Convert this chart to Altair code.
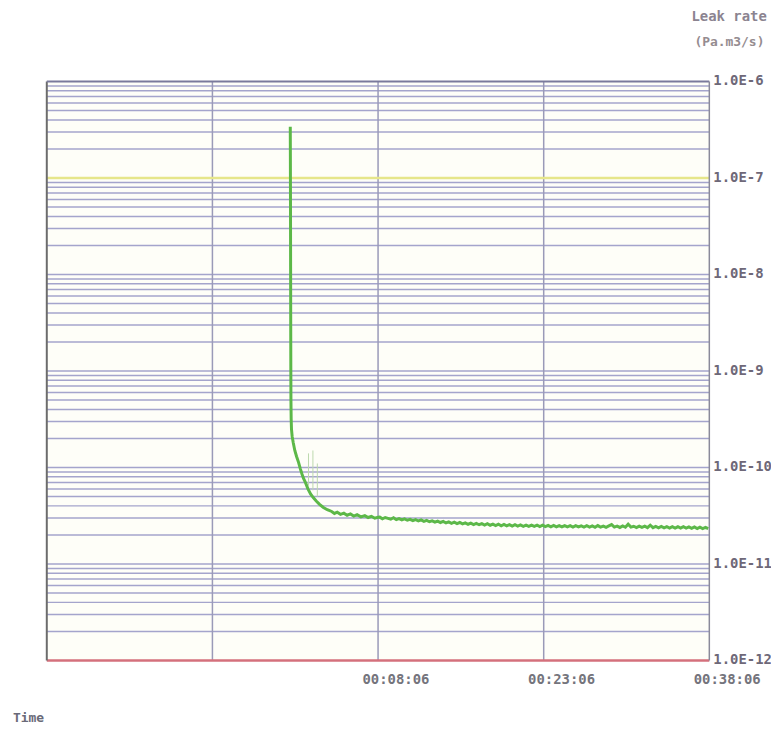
import altair as alt
import pandas as pd

# ---------------- data ----------------
time_min = [0.15, 0.16, 0.17, 0.18, 0.19, 0.20, 0.21, 0.23, 0.26, 0.32, 0.42, 0.56, 0.72, 0.90,
            1.05, 1.20, 1.35, 1.52, 1.75, 2.00, 2.25, 2.50, 2.80, 3.15, 3.50, 3.90, 4.15, 4.40,
            4.70, 5.00, 5.30, 5.60, 5.90, 6.20, 6.55, 6.90, 7.20, 7.50, 7.80, 8.10,
            8.25, 8.50, 8.75, 9.00, 9.25, 9.50, 9.75, 10.00, 10.25, 10.50, 10.75, 11.00,
            11.25, 11.50, 11.75, 12.00, 12.25, 12.50, 12.75, 13.00, 13.25, 13.50, 13.75, 14.00,
            14.25, 14.50, 14.75, 15.00, 15.25, 15.50, 15.75, 16.00, 16.25, 16.50, 16.75, 17.00,
            17.25, 17.50, 17.75, 18.00, 18.25, 18.50, 18.75, 19.00, 19.25, 19.50, 19.75, 20.00,
            20.25, 20.50, 20.75, 21.00, 21.25, 21.50, 21.75, 22.00, 22.25, 22.50, 22.75, 23.00,
            23.25, 23.50, 23.75, 24.00, 24.25, 24.50, 24.75, 25.00, 25.25, 25.50, 25.75, 26.00,
            26.25, 26.50, 26.75, 27.00, 27.25, 27.50, 27.75, 28.00, 28.25, 28.50, 28.75, 29.00,
            29.25, 29.50, 29.75, 30.00, 30.25, 30.50, 30.75, 31.00, 31.25, 31.50, 31.75, 32.00,
            32.25, 32.50, 32.75, 33.00, 33.25, 33.50, 33.75, 34.00, 34.25, 34.50, 34.75, 35.00,
            35.25, 35.50, 35.75, 36.00, 36.25, 36.50, 36.75, 37.00, 37.25, 37.50, 37.75, 38.00]
leak_rate = [3.4e-7, 1.5e-7, 5e-8, 1.2e-8, 3e-9, 1.0e-9, 5e-10, 3.2e-10, 2.5e-10, 2.1e-10,
             1.8e-10, 1.5e-10, 1.3e-10, 1.13e-10, 9.8e-11, 8.6e-11, 7.7e-11, 7.0e-11, 6.0e-11,
             5.3e-11, 4.85e-11, 4.5e-11, 4.15e-11, 3.85e-11, 3.65e-11, 3.5e-11, 3.34e-11,
             3.44e-11, 3.27e-11, 3.36e-11, 3.20e-11, 3.30e-11, 3.14e-11, 3.24e-11, 3.08e-11,
             3.17e-11, 3.03e-11, 3.12e-11, 2.98e-11, 3.05e-11,
             3.06e-11, 2.94e-11, 3.03e-11, 2.97e-11, 2.91e-11, 3.01e-11, 2.88e-11, 2.95e-11,
             2.86e-11, 2.93e-11, 2.84e-11, 2.90e-11, 2.81e-11, 2.88e-11, 2.79e-11, 2.86e-11,
             2.76e-11, 2.83e-11, 2.74e-11, 2.80e-11, 2.71e-11, 2.78e-11, 2.69e-11, 2.76e-11,
             2.66e-11, 2.73e-11, 2.64e-11, 2.71e-11, 2.62e-11, 2.69e-11, 2.60e-11, 2.67e-11,
             2.58e-11, 2.65e-11, 2.56e-11, 2.63e-11, 2.55e-11, 2.62e-11, 2.53e-11, 2.61e-11,
             2.52e-11, 2.59e-11, 2.50e-11, 2.58e-11, 2.49e-11, 2.57e-11, 2.48e-11, 2.56e-11,
             2.47e-11, 2.55e-11, 2.47e-11, 2.54e-11, 2.46e-11, 2.53e-11, 2.45e-11, 2.53e-11,
             2.45e-11, 2.52e-11, 2.44e-11, 2.52e-11, 2.44e-11, 2.51e-11, 2.43e-11, 2.51e-11,
             2.43e-11, 2.50e-11, 2.42e-11, 2.50e-11, 2.42e-11, 2.49e-11, 2.41e-11, 2.49e-11,
             2.42e-11, 2.48e-11, 2.41e-11, 2.49e-11, 2.41e-11, 2.48e-11, 2.40e-11, 2.50e-11,
             2.41e-11, 2.47e-11, 2.40e-11, 2.48e-11, 2.56e-11, 2.41e-11, 2.47e-11, 2.39e-11,
             2.48e-11, 2.40e-11, 2.58e-11, 2.41e-11, 2.46e-11, 2.38e-11, 2.47e-11, 2.39e-11,
             2.46e-11, 2.38e-11, 2.52e-11, 2.38e-11, 2.45e-11, 2.37e-11, 2.45e-11, 2.37e-11,
             2.44e-11, 2.36e-11, 2.44e-11, 2.36e-11, 2.43e-11, 2.35e-11, 2.43e-11, 2.35e-11,
             2.42e-11, 2.34e-11, 2.42e-11, 2.33e-11, 2.41e-11, 2.33e-11, 2.39e-11, 2.32e-11]

# faint noise spikes just after the drop
spike_t = [1.8, 2.2, 2.6]
spike_top = [1.4e-10, 1.5e-10, 1.1e-10]
spike_bottom = [6.5e-11, 5.8e-11, 5.0e-11]

y_decades = [1e-12, 1e-11, 1e-10, 1e-9, 1e-8, 1e-7, 1e-6]
y_labels = ["1.0E-12", "1.0E-11", "1.0E-10", "1.0E-9", "1.0E-8", "1.0E-7", "1.0E-6"]
x_grid = [-6.9, 8.1, 23.1]
x_label_values = [8.1, 23.1, 38.1]
x_labels = ["00:08:06", "00:23:06", "00:38:06"]
threshold = [1e-7]
baseline_value = [1e-12]
x_domain = [-21.9, 38.1]
y_domain = [1e-12, 1e-6]
axis_titles = ["Leak rate", "(Pa.m3/s)", "Time"]

# ---------------- layout ----------------
W, H = 666, 582
FONT = "DejaVu Sans Mono"
minor = [k * 10.0 ** e for e in range(-12, -6) for k in range(2, 10)] + y_decades[1:-1]

xs = alt.Scale(domain=x_domain, nice=False, zero=False)
ys = alt.Scale(type="log", domain=y_domain, nice=False)

series = pd.DataFrame({"t": time_min, "v": leak_rate})
spikes = pd.DataFrame({"t": spike_t, "v": spike_top, "v2": spike_bottom})
hgrid = pd.DataFrame({"v": minor})
vgrid = pd.DataFrame({"t": x_grid})
ylab = pd.DataFrame({"v": y_decades, "label": y_labels})
xlab = pd.DataFrame({"t": x_label_values, "label": x_labels})

h_lines = alt.Chart(hgrid).mark_rule(color="#a4a4cc", strokeWidth=1.5).encode(
    y=alt.Y("v:Q", scale=ys, axis=None))
v_lines = alt.Chart(vgrid).mark_rule(color="#9a9ab8", strokeWidth=1.5).encode(
    x=alt.X("t:Q", scale=xs, axis=None))
thr_line = alt.Chart(pd.DataFrame({"v": threshold})).mark_rule(color="#e6e68a", strokeWidth=2.5).encode(
    y=alt.Y("v:Q", scale=ys, axis=None))
bottom_line = alt.Chart(pd.DataFrame({"v": baseline_value})).mark_rule(color="#d4707c", strokeWidth=2.5).encode(
    y=alt.Y("v:Q", scale=ys, axis=None))

left_border = alt.Chart(pd.DataFrame({"a": [0]})).mark_rule(color="#6c6c6c", strokeWidth=2).encode(
    x=alt.value(0), y=alt.value(0), y2=alt.value(H))
top_border = alt.Chart(pd.DataFrame({"a": [0]})).mark_rule(color="#7a7a9c", strokeWidth=2).encode(
    x=alt.value(0), x2=alt.value(W), y=alt.value(0))
right_border = alt.Chart(pd.DataFrame({"a": [0]})).mark_rule(color="#8a8a9a", strokeWidth=1.5).encode(
    x=alt.value(W), y=alt.value(0), y2=alt.value(H))

spike_marks = alt.Chart(spikes).mark_rule(color="#bcd9ae", strokeWidth=1).encode(
    x=alt.X("t:Q", scale=xs, axis=None),
    y=alt.Y("v:Q", scale=ys, axis=None), y2="v2:Q")

line = alt.Chart(series).mark_line(color="#5cb848", strokeWidth=3).encode(
    x=alt.X("t:Q", scale=xs, axis=None),
    y=alt.Y("v:Q", scale=ys, axis=None),
    order="t:Q")

y_text = alt.Chart(ylab).mark_text(align="left", baseline="middle", dx=4, font=FONT,
                                   fontSize=14, fontWeight="bold", color="#6e6878").encode(
    x=alt.value(W), y=alt.Y("v:Q", scale=ys, axis=None), text="label:N")
x_text = alt.Chart(xlab).mark_text(align="center", baseline="middle", dx=18, font=FONT,
                                   fontSize=14, fontWeight="bold", color="#74747c").encode(
    x=alt.X("t:Q", scale=xs, axis=None), y=alt.value(H + 20), text="label:N")

t1 = alt.Chart(pd.DataFrame({"s": [axis_titles[0]]})).mark_text(
    align="left", baseline="middle", font=FONT, fontSize=14, fontWeight="bold", color="#8b8390").encode(
    x=alt.value(W - 18), y=alt.value(-65), text="s:N")
t2 = alt.Chart(pd.DataFrame({"s": [axis_titles[1]]})).mark_text(
    align="left", baseline="middle", font=FONT, fontSize=13, fontWeight="bold", color="#958c90").encode(
    x=alt.value(W - 15), y=alt.value(-40), text="s:N")
t3 = alt.Chart(pd.DataFrame({"s": [axis_titles[2]]})).mark_text(
    align="left", baseline="middle", font=FONT, fontSize=13, fontWeight="bold", color="#6a6a78").encode(
    x=alt.value(-34), y=alt.value(H + 58), text="s:N")

chart = alt.layer(
    h_lines, v_lines, thr_line, bottom_line, left_border, top_border, right_border,
    spike_marks, line, y_text, x_text, t1, t2, t3
).properties(
    width=W, height=H,
    autosize=alt.AutoSizeParams(type="none"),
    padding={"left": 39, "top": 72, "right": 62, "bottom": 66},
    background="white",
).configure_view(stroke=None, fill="#fefef8")

chart.save("out.html", embed_options={"renderer": "svg", "actions": False})
